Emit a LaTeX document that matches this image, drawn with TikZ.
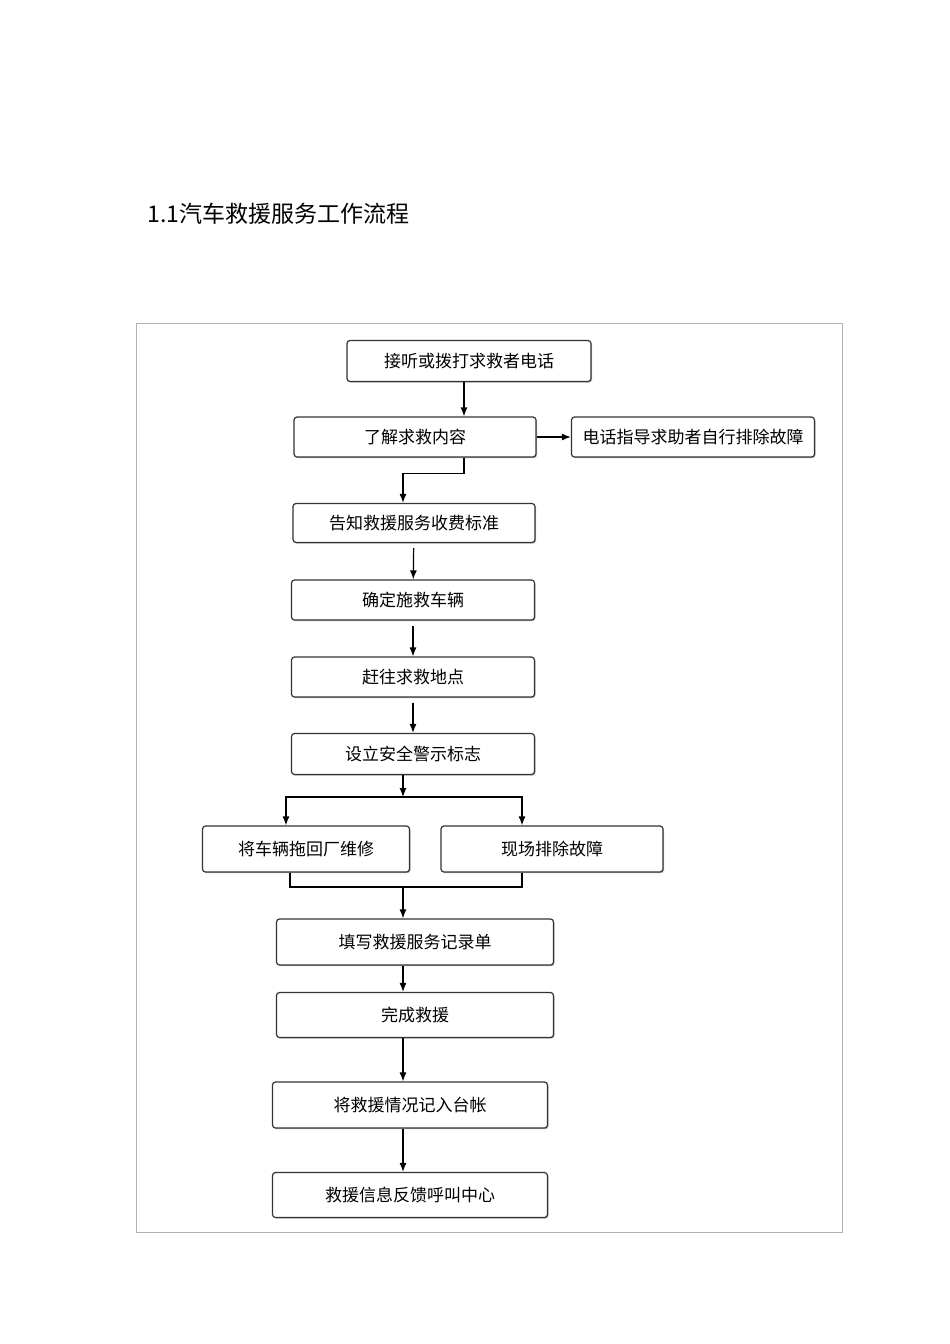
\documentclass[tikz,border=0pt]{standalone}
\usepackage{fontspec}
\setmainfont{Noto Sans CJK SC}
\usetikzlibrary{arrows.meta,shadows}
\begin{document}
\begin{tikzpicture}[x=1pt,y=-1pt,
		stepbox/.style={draw=black!80,line width=1.2pt,rounded corners=3pt,fill=white,
			drop shadow={shadow xshift=1pt,shadow yshift=-1.2pt,fill=black!35,opacity=0.8},
			font=\fontsize{17}{17}\selectfont,inner sep=0pt},
		arr/.style={line width=1.2pt,-{Latex[length=9pt,width=7pt]}}]
				\useasboundingbox (0,0) rectangle (950,1344);
				\node[anchor=west,font=\fontsize{23}{23}\selectfont] (title) at (144,214) {1.1汽车救援服务工作流程};
				\draw[black!30,line width=0.8pt] (136,323) rectangle (842,1232);
				% boxes
				\node[stepbox,minimum width=244,minimum height=41] (call) at (469,361) {接听或拨打求救者电话};
				\node[stepbox,minimum width=242,minimum height=40] (ask) at (415,437) {了解求救内容};
				\node[stepbox,minimum width=243,minimum height=40] (phone) at (693,437) {电话指导求助者自行排除故障};
				\node[stepbox,minimum width=242,minimum height=39] (fee) at (414,523) {告知救援服务收费标准};
				\node[stepbox,minimum width=243,minimum height=40] (car) at (413,600) {确定施救车辆};
				\node[stepbox,minimum width=243,minimum height=40] (go) at (413,677) {赶往求救地点};
				\node[stepbox,minimum width=243,minimum height=41] (sign) at (413,754) {设立安全警示标志};
				\node[stepbox,minimum width=207,minimum height=46] (tow) at (306,849) {将车辆拖回厂维修};
				\node[stepbox,minimum width=222,minimum height=46] (fix) at (552,849) {现场排除故障};
				\node[stepbox,minimum width=277,minimum height=46] (form) at (415,942) {填写救援服务记录单};
				\node[stepbox,minimum width=277,minimum height=45] (done) at (415,1015) {完成救援};
				\node[stepbox,minimum width=275,minimum height=46] (book) at (410,1105) {将救援情况记入台帐};
				\node[stepbox,minimum width=275,minimum height=45] (back) at (410,1195) {救援信息反馈呼叫中心};
				% junctions
				\coordinate (J1) at (403,797);
				\coordinate (J2) at (403,887);
				% connectors
				\draw[arr] ([xshift=-5pt]call.south) to ([xshift=-5pt]call.south |- ask.north);
				\draw[arr] (ask) to (phone);
				\draw[arr] ([xshift=49pt]ask.south) -- ++(0,16) -| ([xshift=-11pt]fee.north);
				\draw[arr,shorten <=5pt] (fee) to (car);
				\draw[arr,shorten <=5pt] (car) to (go);
				\draw[arr,shorten <=5pt] (go) to (sign);
				\draw[arr] (sign.south -| J1) to (J1);
				\draw[arr] (J1) -| ([xshift=-20pt]tow.north);
				\draw[arr] (J1) -| ([xshift=-30pt]fix.north);
				\draw[line width=1.2pt] ([xshift=-16pt]tow.south) |- (J2) -| ([xshift=-30pt]fix.south);
				\draw[arr] (J2) to (J2 |- form.north);
				\draw[arr] (form.south -| J2) to (done.north -| J2);
				\draw[arr] (done.south -| J2) to (book.north -| J2);
				\draw[arr] (book.south -| J2) to (back.north -| J2);
			\end{tikzpicture}
\end{document}
